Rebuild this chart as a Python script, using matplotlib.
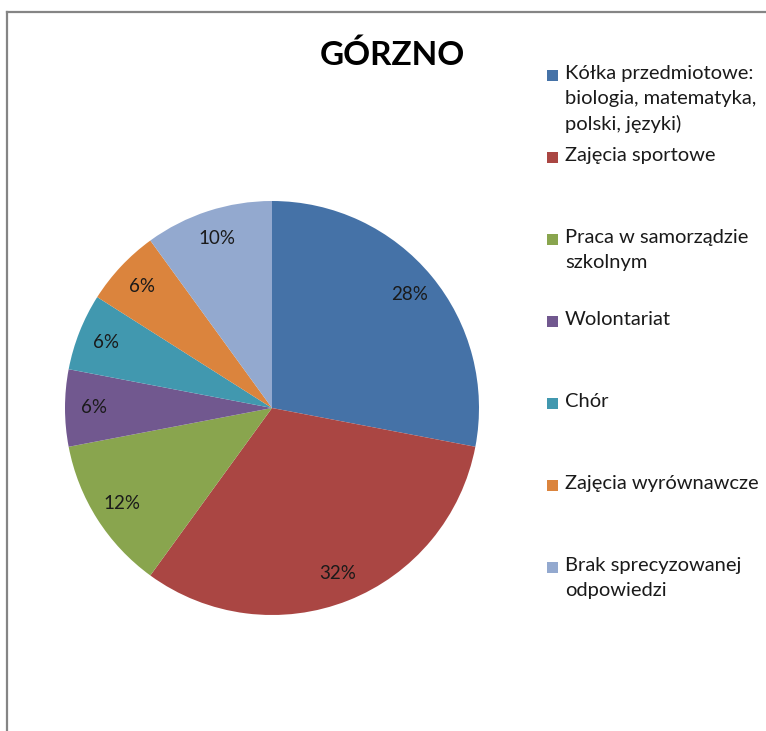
import matplotlib.pyplot as plt
from matplotlib.patches import Rectangle
from matplotlib.lines import Line2D

title = "GÓRZNO"
labels = [
    "Kółka przedmiotowe:\nbiologia, matematyka,\npolski, języki)",
    "Zajęcia sportowe",
    "Praca w samorządzie\nszkolnym",
    "Wolontariat",
    "Chór",
    "Zajęcia wyrównawcze",
    "Brak sprecyzowanej\nodpowiedzi",
]
values = [28, 32, 12, 6, 6, 6, 10]
colors = ["#4572A7", "#AA4643", "#89A54E", "#71588F", "#4198AF", "#DB843D", "#93A9CF"]

plt.rcParams['font.family'] = ['Lato', 'DejaVu Sans']

W, H = 766, 731
fig = plt.figure(figsize=(W / 100, H / 100), dpi=100)

# pie centre ~ (272, 408) px, radius ~207 px
cx, cy, r = 272, 408, 207
half = 220
ax = fig.add_axes([(cx - half) / W, (H - cy - half) / H, 2 * half / W, 2 * half / H])
ax.pie(values, colors=colors, startangle=90, counterclock=False, radius=1,
       autopct='%1.0f%%', pctdistance=0.86,
       wedgeprops=dict(linewidth=0),
       textprops=dict(fontsize=13.5, color='#1a1a1a'))
ax.set_xlim(-half / r, half / r)
ax.set_ylim(-half / r, half / r)
ax.set_aspect('equal')
ax.axis('off')

fig.text(392 / W, 1 - 55 / H, title, ha='center', va='center',
         fontsize=24, fontweight='bold')

# legend, one slot every ~82 px
for i, (lab, col) in enumerate(zip(labels, colors)):
    y = 75 + i * 82
    fig.patches.append(Rectangle((547 / W, 1 - (y + 6) / H), 11 / W, 11 / H,
                                 facecolor=col, edgecolor='none',
                                 transform=fig.transFigure))
    fig.text(565 / W, 1 - (y - 10) / H, lab, ha='left', va='top',
             fontsize=14.5, linespacing=1.55, color='#1a1a1a')

# chart border (top and left only visible)
fig.add_artist(Line2D([7 / W, 1], [1 - 12 / H, 1 - 12 / H], color='#858585', lw=1.6))
fig.add_artist(Line2D([7 / W, 7 / W], [0, 1 - 12 / H], color='#858585', lw=1.6))

fig.savefig('out.png', dpi=100)
